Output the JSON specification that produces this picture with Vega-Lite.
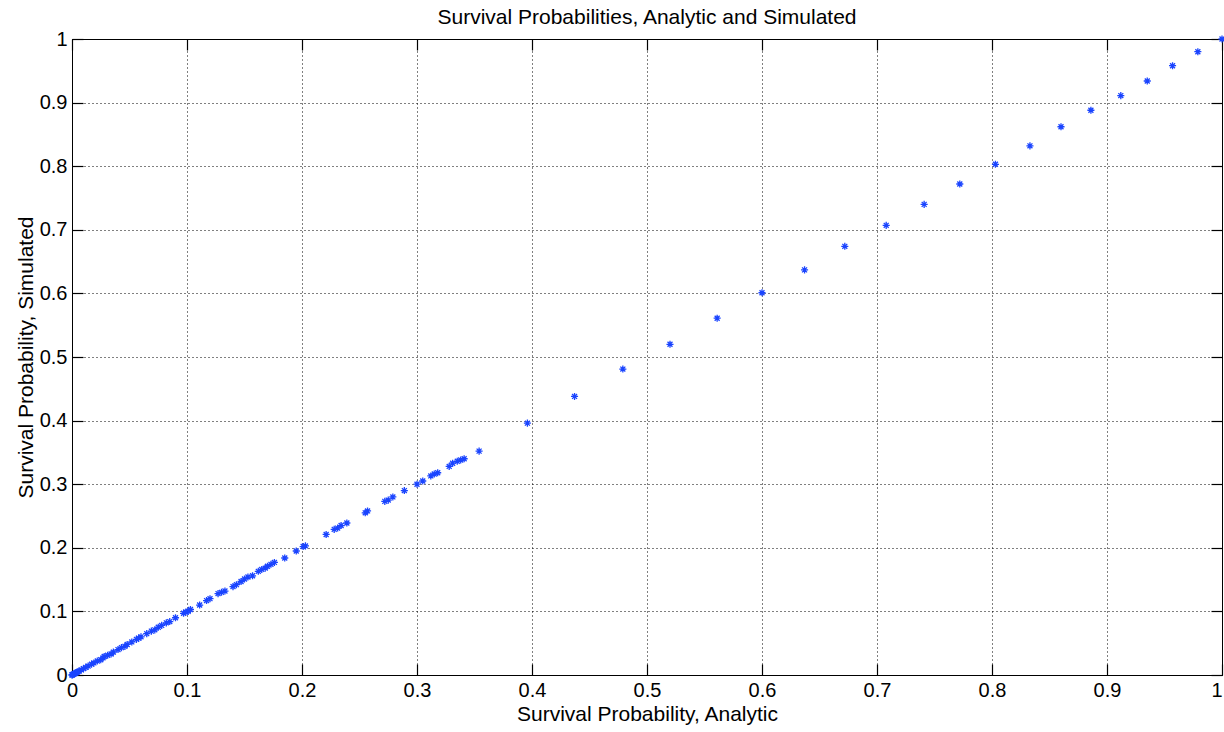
{
  "$schema": "https://vega.github.io/schema/vega-lite/v6.json",
  "width": 1150,
  "height": 636,
  "autosize": {"type": "none"},
  "padding": {"left": 72, "top": 39, "right": 2, "bottom": 57},
  "background": "white",
  "title": {"text": "Survival Probabilities, Analytic and Simulated", "font": "Liberation Sans", "fontSize": 21, "fontWeight": "normal", "color": "black", "offset": 1},
  "config": {
    "view": {"stroke": "black", "strokeWidth": 1},
    "axis": {
      "labelFont": "Liberation Sans", "labelFontSize": 20, "labelColor": "black", "labelFlush": false, "labelOverlap": false,
      "titleFont": "Liberation Sans", "titleFontSize": 21, "titleFontWeight": "normal", "titleColor": "black",
      "domainColor": "black", "tickColor": "black", "tickSize": -11, "tickWidth": 1.2,
      "gridColor": "black", "gridDash": [1, 3], "gridOpacity": 1, "gridWidth": 1
    }
  },
  "data": {"values": [
    {"analytic": 1.0, "simulated": 1.0},
    {"analytic": 0.979, "simulated": 0.98},
    {"analytic": 0.957, "simulated": 0.958},
    {"analytic": 0.935, "simulated": 0.934},
    {"analytic": 0.912, "simulated": 0.911},
    {"analytic": 0.886, "simulated": 0.888},
    {"analytic": 0.86, "simulated": 0.862},
    {"analytic": 0.833, "simulated": 0.832},
    {"analytic": 0.803, "simulated": 0.803},
    {"analytic": 0.772, "simulated": 0.772},
    {"analytic": 0.741, "simulated": 0.74},
    {"analytic": 0.708, "simulated": 0.707},
    {"analytic": 0.672, "simulated": 0.674},
    {"analytic": 0.637, "simulated": 0.637},
    {"analytic": 0.6, "simulated": 0.601},
    {"analytic": 0.561, "simulated": 0.561},
    {"analytic": 0.52, "simulated": 0.52},
    {"analytic": 0.479, "simulated": 0.481},
    {"analytic": 0.437, "simulated": 0.438},
    {"analytic": 0.396, "simulated": 0.396},
    {"analytic": 0.354, "simulated": 0.352},
    {"analytic": 0.341, "simulated": 0.34},
    {"analytic": 0.338, "simulated": 0.338},
    {"analytic": 0.335, "simulated": 0.336},
    {"analytic": 0.331, "simulated": 0.333},
    {"analytic": 0.328, "simulated": 0.328},
    {"analytic": 0.318, "simulated": 0.318},
    {"analytic": 0.315, "simulated": 0.316},
    {"analytic": 0.312, "simulated": 0.313},
    {"analytic": 0.305, "simulated": 0.305},
    {"analytic": 0.3, "simulated": 0.3},
    {"analytic": 0.289, "simulated": 0.29},
    {"analytic": 0.279, "simulated": 0.28},
    {"analytic": 0.275, "simulated": 0.275},
    {"analytic": 0.272, "simulated": 0.273},
    {"analytic": 0.257, "simulated": 0.258},
    {"analytic": 0.255, "simulated": 0.255},
    {"analytic": 0.239, "simulated": 0.239},
    {"analytic": 0.234, "simulated": 0.235},
    {"analytic": 0.231, "simulated": 0.231},
    {"analytic": 0.228, "simulated": 0.229},
    {"analytic": 0.221, "simulated": 0.221},
    {"analytic": 0.203, "simulated": 0.203},
    {"analytic": 0.201, "simulated": 0.202},
    {"analytic": 0.195, "simulated": 0.195},
    {"analytic": 0.185, "simulated": 0.184},
    {"analytic": 0.176, "simulated": 0.177},
    {"analytic": 0.173, "simulated": 0.174},
    {"analytic": 0.17, "simulated": 0.171},
    {"analytic": 0.168, "simulated": 0.168},
    {"analytic": 0.165, "simulated": 0.166},
    {"analytic": 0.162, "simulated": 0.163},
    {"analytic": 0.157, "simulated": 0.156},
    {"analytic": 0.153, "simulated": 0.154},
    {"analytic": 0.15, "simulated": 0.151},
    {"analytic": 0.147, "simulated": 0.147},
    {"analytic": 0.143, "simulated": 0.142},
    {"analytic": 0.14, "simulated": 0.139},
    {"analytic": 0.133, "simulated": 0.132},
    {"analytic": 0.13, "simulated": 0.13},
    {"analytic": 0.127, "simulated": 0.128},
    {"analytic": 0.12, "simulated": 0.12},
    {"analytic": 0.117, "simulated": 0.117},
    {"analytic": 0.111, "simulated": 0.11},
    {"analytic": 0.103, "simulated": 0.103},
    {"analytic": 0.101, "simulated": 0.1},
    {"analytic": 0.099, "simulated": 0.099},
    {"analytic": 0.097, "simulated": 0.097},
    {"analytic": 0.09, "simulated": 0.09},
    {"analytic": 0.085, "simulated": 0.084},
    {"analytic": 0.082, "simulated": 0.082},
    {"analytic": 0.078, "simulated": 0.078},
    {"analytic": 0.075, "simulated": 0.075},
    {"analytic": 0.072, "simulated": 0.071},
    {"analytic": 0.069, "simulated": 0.069},
    {"analytic": 0.065, "simulated": 0.065},
    {"analytic": 0.06, "simulated": 0.06},
    {"analytic": 0.058, "simulated": 0.058},
    {"analytic": 0.056, "simulated": 0.056},
    {"analytic": 0.052, "simulated": 0.052},
    {"analytic": 0.048, "simulated": 0.048},
    {"analytic": 0.046, "simulated": 0.045},
    {"analytic": 0.043, "simulated": 0.043},
    {"analytic": 0.04, "simulated": 0.04},
    {"analytic": 0.036, "simulated": 0.036},
    {"analytic": 0.034, "simulated": 0.033},
    {"analytic": 0.031, "simulated": 0.031},
    {"analytic": 0.028, "simulated": 0.029},
    {"analytic": 0.027, "simulated": 0.027},
    {"analytic": 0.025, "simulated": 0.024},
    {"analytic": 0.022, "simulated": 0.022},
    {"analytic": 0.019, "simulated": 0.019},
    {"analytic": 0.017, "simulated": 0.017},
    {"analytic": 0.014, "simulated": 0.014},
    {"analytic": 0.012, "simulated": 0.012},
    {"analytic": 0.01, "simulated": 0.01},
    {"analytic": 0.008, "simulated": 0.008},
    {"analytic": 0.006, "simulated": 0.006},
    {"analytic": 0.005, "simulated": 0.005},
    {"analytic": 0.004, "simulated": 0.004},
    {"analytic": 0.003, "simulated": 0.003},
    {"analytic": 0.002, "simulated": 0.002},
    {"analytic": 0.001, "simulated": 0.001},
    {"analytic": 0.0005, "simulated": 0.0005},
    {"analytic": 0.0002, "simulated": 0.0003},
    {"analytic": 0.0, "simulated": 0.0}
  ]},
  "resolve": {"axis": {"x": "independent", "y": "independent"}},
  "layer": [
    {
      "mark": {"type": "point", "shape": "M-1,0L1,0M0,-1L0,1M-0.7,-0.7L0.7,0.7M-0.7,0.7L0.7,-0.7", "filled": false, "stroke": "#1a44ff", "strokeWidth": 1.3, "size": 50, "opacity": 1},
      "encoding": {
        "x": {"field": "analytic", "type": "quantitative", "scale": {"domain": [0, 1], "nice": false, "zero": false},
              "axis": {"orient": "bottom", "title": "Survival Probability, Analytic", "grid": true, "values": [0, 0.1, 0.2, 0.3, 0.4, 0.5, 0.6, 0.7, 0.8, 0.9, 1], "format": "~g", "labelPadding": 16, "titlePadding": 3,
                       "labelAlign": {"condition": {"test": "datum.value >= 1", "value": "right"}, "value": "center"}}},
        "y": {"field": "simulated", "type": "quantitative", "scale": {"domain": [0, 1], "nice": false, "zero": false},
              "axis": {"orient": "left", "title": "Survival Probability, Simulated", "grid": true, "values": [0, 0.1, 0.2, 0.3, 0.4, 0.5, 0.6, 0.7, 0.8, 0.9, 1], "format": "~g", "labelPadding": 16, "titlePadding": 3}}
      }
    },
    {
      "mark": {"type": "point", "opacity": 0},
      "encoding": {
        "x": {"field": "analytic", "type": "quantitative", "scale": {"domain": [0, 1], "nice": false, "zero": false},
              "axis": {"orient": "top", "labels": false, "grid": false, "title": null, "values": [0, 0.1, 0.2, 0.3, 0.4, 0.5, 0.6, 0.7, 0.8, 0.9, 1], "domain": true}},
        "y": {"field": "simulated", "type": "quantitative", "scale": {"domain": [0, 1], "nice": false, "zero": false},
              "axis": {"orient": "right", "labels": false, "grid": false, "title": null, "values": [0, 0.1, 0.2, 0.3, 0.4, 0.5, 0.6, 0.7, 0.8, 0.9, 1], "domain": true}}
      }
    }
  ]
}
